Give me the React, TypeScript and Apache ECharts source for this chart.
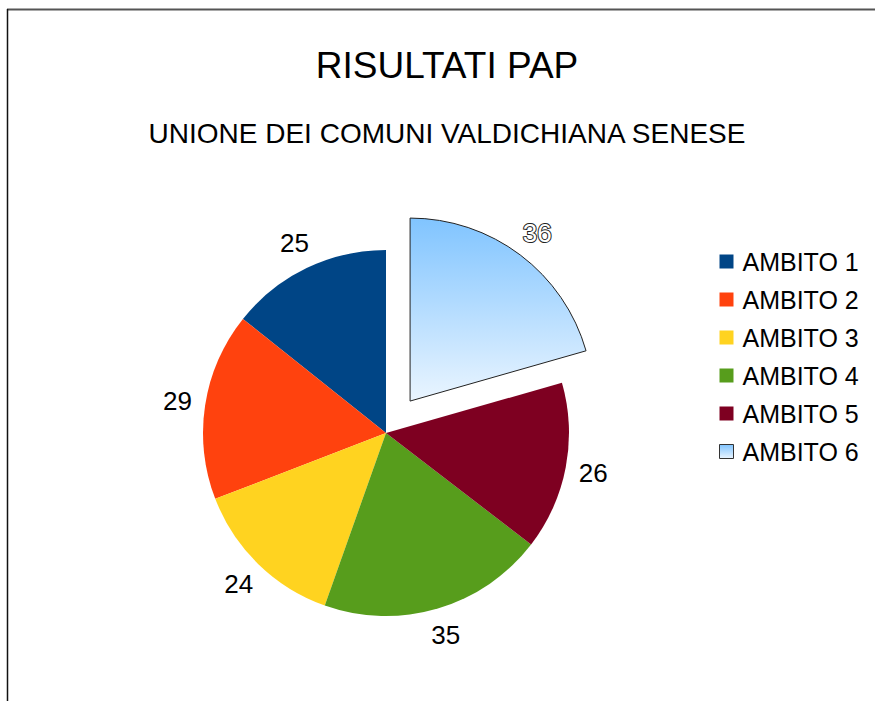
import React, { useEffect, useRef } from "react";
import * as echarts from "echarts";

const categories = ["AMBITO 1", "AMBITO 2", "AMBITO 3", "AMBITO 4", "AMBITO 5", "AMBITO 6"];
const values = [25, 29, 24, 35, 26, 36];
const colors = ["#004586", "#ff420e", "#ffd320", "#579d1c", "#7e0021", "#83caff"];
const explodedIndex = 5;
const titleText = "RISULTATI PAP";
const subtitleText = "UNIONE DEI COMUNI VALDICHIANA SENESE";

const FONT = "'Liberation Sans', Arial, sans-serif";

export default function App() {
  const ref = useRef<HTMLDivElement>(null);
  useEffect(() => {
    if (!ref.current) return;
    const chart = echarts.init(ref.current, null, { renderer: "svg" });
    const grad = () =>
      new echarts.graphic.LinearGradient(0, 0, 0, 1, [
        { offset: 0, color: "#80c4ff" },
        { offset: 1, color: "#eaf5ff" },
      ]);
    const mainData = categories.map((name, i) => ({
      name,
      value: values[i],
      selected: i === explodedIndex,
      itemStyle:
        i === explodedIndex
          ? { color: grad(), borderColor: "#222", borderWidth: 1 }
          : { color: colors[i], borderWidth: 0 },
    }));
    const labelData = categories.map((name, i) => ({
      name,
      value: values[i],
      selected: i === explodedIndex,
      label:
        i === explodedIndex
          ? { color: "#ffffff", textBorderColor: "#222", textBorderWidth: 2 }
          : {},
    }));
    chart.setOption({
      animation: false,
      backgroundColor: "#ffffff",
      graphic: [
        { type: "line", shape: { x1: 7, y1: 9.5, x2: 875, y2: 9.5 }, style: { stroke: "#555", lineWidth: 2 } },
        { type: "line", shape: { x1: 7.5, y1: 9, x2: 7.5, y2: 701 }, style: { stroke: "#111", lineWidth: 1.5 } },
        {
          type: "text",
          x: 447,
          y: 65,
          style: { text: titleText, fill: "#000", font: `37px ${FONT}`, textAlign: "center", textVerticalAlign: "middle" },
        },
        {
          type: "text",
          x: 447,
          y: 133,
          style: { text: subtitleText, fill: "#000", font: `28px ${FONT}`, textAlign: "center", textVerticalAlign: "middle" },
        },
      ],
      legend: {
        orient: "vertical",
        left: 719,
        top: 249,
        padding: 0,
        itemWidth: 14,
        itemHeight: 14,
        itemGap: 13,
        icon: "rect",
        selectedMode: false,
        textStyle: { color: "#000", fontSize: 25, fontFamily: FONT, padding: [0, 0, 0, 4] },
        data: categories.map((name, i) => ({
          name,
          itemStyle:
            i === explodedIndex
              ? { color: grad(), borderColor: "#333", borderWidth: 1 }
              : { color: colors[i], borderWidth: 0 },
        })),
      },
      series: [
        {
          type: "pie",
          center: [386, 433],
          radius: 183,
          startAngle: 90,
          clockwise: false,
          selectedMode: "single",
          selectedOffset: 40,
          silent: true,
          emphasis: { disabled: true },
          label: { show: false },
          labelLine: { show: false },
          data: mainData,
        },
        {
          type: "pie",
          center: [386, 433],
          radius: [183, 233],
          startAngle: 90,
          clockwise: false,
          selectedMode: "single",
          selectedOffset: 40,
          silent: true,
          emphasis: { disabled: true },
          itemStyle: { color: "rgba(0,0,0,0)", borderWidth: 0 },
          label: { show: true, position: "inside", formatter: "{c}", color: "#000", fontSize: 26, fontFamily: FONT },
          labelLine: { show: false },
          data: labelData,
        },
      ],
    });
    return () => chart.dispose();
  }, []);
  return <div ref={ref} style={{ position: "absolute", left: 0, top: 0, width: 875, height: 701 }} />;
}
